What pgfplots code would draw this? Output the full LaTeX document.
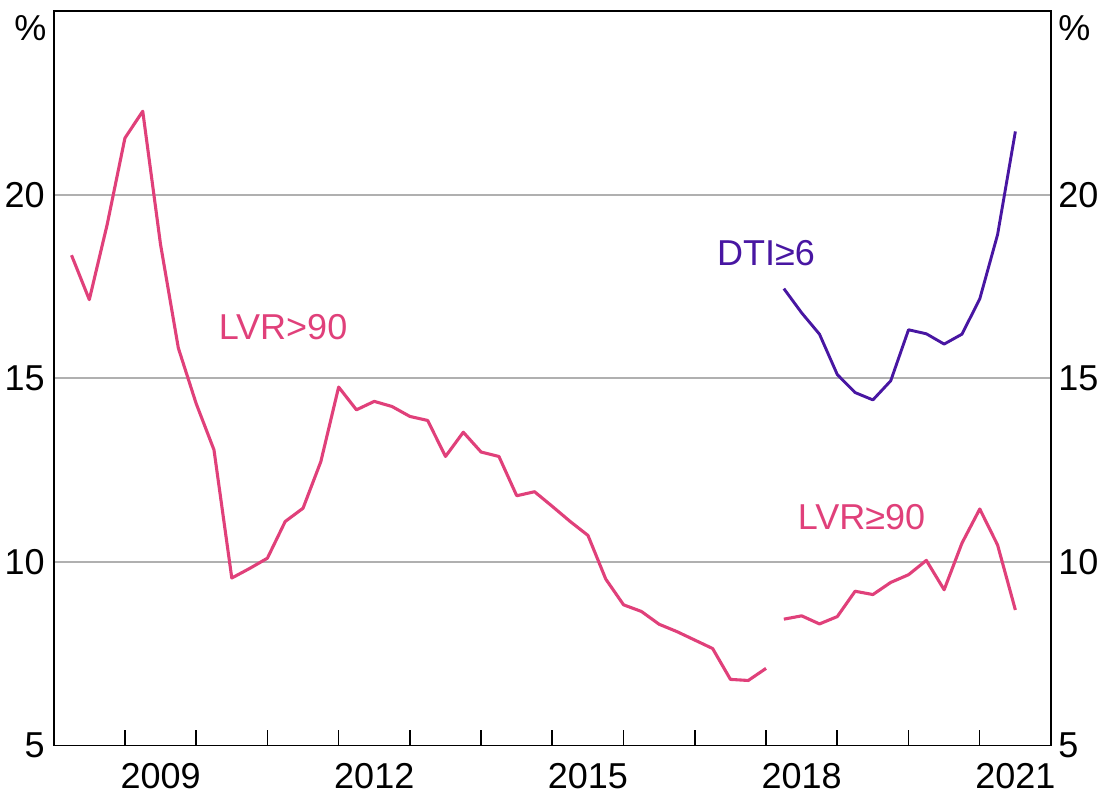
\documentclass[border=0pt]{standalone}
\usepackage{pgfplots}
\pgfplotsset{compat=1.18}
\usepackage{fontspec}
\setmainfont{Liberation Sans}
\definecolor{lvr}{RGB}{224,64,122}
\definecolor{dti}{RGB}{72,22,162}
\definecolor{gridc}{RGB}{176,176,176}
\newcommand{\bigf}{\fontsize{18}{21}\selectfont}
\begin{document}
\begin{tikzpicture}
\begin{axis}[
  scale only axis, width=498.65pt, height=367.25pt,
  xmin=2008, xmax=2022, ymin=5, ymax=25,
  clip=false,
  /pgf/number format/assume math mode=true,
  ytick={5,10,15,20}, ymajorgrids,
  grid style={gridc, line width=0.9pt},
  ytick style={draw=none},
  yticklabel style={font=\bigf, inner sep=0pt, xshift=-4.3pt},
  xtick={2009,...,2021}, xticklabels={},
  xtick pos=bottom, tick align=inside,
  major tick length=7.5pt,
  xtick style={black, line width=0.8pt},
  extra x ticks={2009.5,2012.5,2015.5,2018.5,2021.5},
  extra x tick labels={2009,2012,2015,2018,2021},
  extra x tick style={major tick length=0pt, grid=none},
  xticklabel style={font=\bigf, inner sep=0pt, yshift=-8.75pt},
  axis line style={line width=0.9pt},
]
\coordinate (SW) at (rel axis cs:0,0);
\coordinate (NE) at (rel axis cs:1,1);
% LVR>90
\addplot[lvr, line width=1.55pt, line join=round] coordinates {
(2008.25,18.35) (2008.50,17.14) (2008.75,19.18) (2009.00,21.54)
(2009.25,22.27) (2009.50,18.64) (2009.75,15.82) (2010.00,14.31)
(2010.25,13.05) (2010.50,9.56) (2010.75,9.82) (2011.00,10.10)
(2011.25,11.10) (2011.50,11.46) (2011.75,12.73) (2012.00,14.76)
(2012.25,14.14) (2012.50,14.37) (2012.75,14.23) (2013.00,13.96)
(2013.25,13.85) (2013.50,12.87) (2013.75,13.53) (2014.00,12.99)
(2014.25,12.87) (2014.50,11.80) (2014.75,11.91) (2015.00,11.51)
(2015.25,11.10) (2015.50,10.72) (2015.75,9.53) (2016.00,8.83)
(2016.25,8.65) (2016.50,8.30) (2016.75,8.10) (2017.00,7.87)
(2017.25,7.64) (2017.50,6.80) (2017.75,6.77) (2018.00,7.10)
};
% LVR>=90
\addplot[lvr, line width=1.55pt, line join=round] coordinates {
(2018.25,8.44) (2018.50,8.53) (2018.75,8.31) (2019.00,8.51)
(2019.25,9.20) (2019.50,9.11) (2019.75,9.44) (2020.00,9.65)
(2020.25,10.04) (2020.50,9.24) (2020.75,10.51) (2021.00,11.44)
(2021.25,10.46) (2021.50,8.69)
};
% DTI>=6
\addplot[dti, line width=1.45pt, line join=round] coordinates {
(2018.25,17.44) (2018.50,16.78) (2018.75,16.20) (2019.00,15.10)
(2019.25,14.61) (2019.50,14.41) (2019.75,14.93) (2020.00,16.32)
(2020.25,16.21) (2020.50,15.93) (2020.75,16.20) (2021.00,17.16)
(2021.25,18.91) (2021.50,21.72)
};
% series labels
\node[lvr, font=\bigf, anchor=base, inner sep=0pt] at (axis cs:2011.22,16.05) {LVR>90};
\node[dti, font=\bigf, anchor=base, inner sep=0pt] at (axis cs:2018.0,18.07) {DTI≥6};
\node[lvr, font=\bigf, anchor=base, inner sep=0pt] at (axis cs:2019.34,10.89) {LVR≥90};
% right-hand tick labels
\node[font=\bigf, anchor=west, inner sep=0pt, xshift=3.5pt] at (axis cs:2022,5) {5};
\node[font=\bigf, anchor=west, inner sep=0pt, xshift=3.5pt] at (axis cs:2022,10) {10};
\node[font=\bigf, anchor=west, inner sep=0pt, xshift=3.5pt] at (axis cs:2022,15) {15};
\node[font=\bigf, anchor=west, inner sep=0pt, xshift=3.5pt] at (axis cs:2022,20) {20};
% units
\node[font=\bigf, anchor=base east, inner sep=0pt, xshift=-3.5pt] at (axis cs:2008,24.2) {\%};
\node[font=\bigf, anchor=base west, inner sep=0pt, xshift=3.5pt] at (axis cs:2022,24.2) {\%};
\end{axis}
\pgfresetboundingbox
\path[use as bounding box] ([xshift=-26.85pt,yshift=-27.75pt]SW) rectangle ([xshift=24pt,yshift=5.5pt]NE);
\end{tikzpicture}
\end{document}
